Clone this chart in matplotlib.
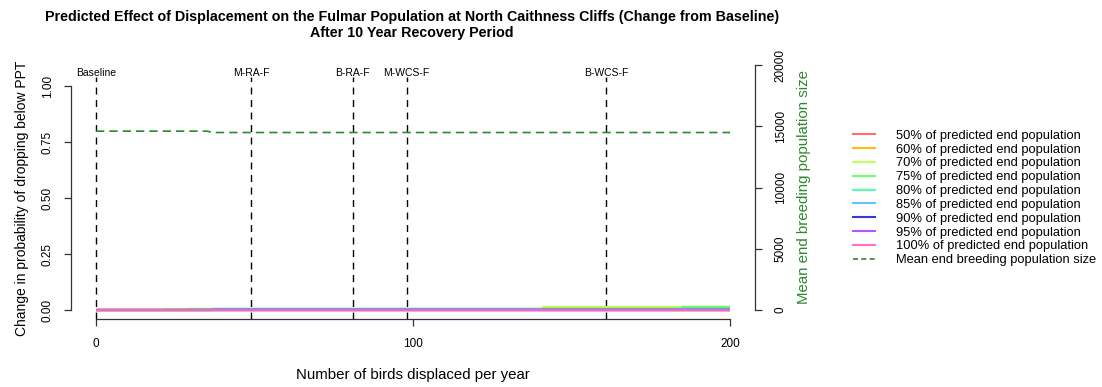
import numpy as np
import matplotlib
matplotlib.use("Agg")
import matplotlib.pyplot as plt
from matplotlib.lines import Line2D

# Data
displaced = [0, 22, 29, 37, 141, 185, 200]          # number of birds displaced per year (step points)
p50 = [0, 0, 0, 0, 0, 0, 0]
p60 = [0, 0, 0, 0, 0, 0, 0]
p70 = [0, 0.006, 0.006, 0.006, 0.012, 0.012, 0.012]
p75 = [0, 0, 0.006, 0.006, 0.006, 0.013, 0.013]
p80 = [0, 0, 0, 0.006, 0.006, 0.006, 0.006]
p85 = [0, 0, 0, 0.006, 0.006, 0.006, 0.006]
p90 = [0, 0, 0, 0, 0, 0, 0]
p95 = [0, 0, 0, 0, 0, 0, 0]
p100 = [0, 0, 0, 0, 0, 0, 0]

pop_x = [0, 35, 37, 200]
mean_pop = [14600, 14600, 14490, 14490]

scenario_x = [0, 49, 81, 98, 161]
scenario_labels = ['Baseline', 'M-RA-F', 'B-RA-F', 'M-WCS-F', 'B-WCS-F']

series = [p50, p60, p70, p75, p80, p85, p90, p95, p100]
series_labels = ['50% of predicted end population', '60% of predicted end population',
                 '70% of predicted end population', '75% of predicted end population',
                 '80% of predicted end population', '85% of predicted end population',
                 '90% of predicted end population', '95% of predicted end population',
                 '100% of predicted end population']
colors = ['#ff6060', '#ffb000', '#c0ff50', '#60ff60', '#40ffb0',
          '#50c0ff', '#2020e0', '#b040ff', '#ff60c0']

REG = ['Liberation Sans', 'DejaVu Sans']
NARROW = ['Liberation Sans Narrow', 'Liberation Sans', 'DejaVu Sans']
plt.rcParams['font.family'] = REG

W, H = 1102, 387
fig = plt.figure(figsize=(W / 100, H / 100), dpi=100)

# main plot region in pixels
left, right, top, bottom = 70.6, 755.4, 77, 319
ax = fig.add_axes([left / W, 1 - bottom / H, (right - left) / W, (bottom - top) / H])
ax.set_xlim(-8, 208)
ax.set_ylim(-0.04, 1.04)
ax.patch.set_alpha(0)

for vals, c, lab in zip(series, colors, series_labels):
    ax.plot(displaced, vals, color=c, lw=1.6, drawstyle='steps-post', solid_capstyle='butt', zorder=3)

for xv, lab in zip(scenario_x, scenario_labels):
    ax.axvline(xv, color='black', lw=1, ls=(0, (5, 4)), zorder=2)
    ax.text(xv, 1.06, lab, ha='center', va='center', fontsize=7.5, family=NARROW, clip_on=False)

for s in ['top', 'right']:
    ax.spines[s].set_visible(False)
ax.spines['bottom'].set_bounds(0, 200)
ax.spines['left'].set_bounds(0, 1)
for s in ['bottom', 'left']:
    ax.spines[s].set_color('#333333')
    ax.spines[s].set_linewidth(0.9)
ax.set_xticks([0, 100, 200])
ax.set_yticks([0, 0.25, 0.5, 0.75, 1.0])
ax.set_yticklabels(['0.00', '0.25', '0.50', '0.75', '1.00'])
ax.tick_params(axis='both', direction='out', length=5, width=0.9, color='#333333', labelsize=8.5)
ax.tick_params(axis='x', pad=9)
ax.tick_params(axis='y', pad=7)
for t in ax.get_yticklabels():
    t.set_rotation(90)
    t.set_va('center')
    t.set_ha('right')

ax.set_xlabel('Number of birds displaced per year', fontsize=10.8, labelpad=13)
ax.set_ylabel('Change in probability of dropping below PPT', fontsize=10, labelpad=9)

# secondary axis for the breeding population size
r_top = 55
ax2 = fig.add_axes([left / W, 1 - bottom / H, (right - left) / W, (bottom - r_top) / H])
ax2.patch.set_alpha(0)
ax2.set_xlim(-8, 208)
scale = (310 - 65) / 20000
ax2.set_ylim(-(bottom - 310) / scale, (310 - r_top) / scale)
ax2.plot(pop_x, mean_pop, color='#2a8a2a', lw=1.2, ls=(0, (5, 3)), zorder=3)
for s in ['top', 'left', 'bottom']:
    ax2.spines[s].set_visible(False)
ax2.spines['right'].set_bounds(0, 20000)
ax2.spines['right'].set_color('#333333')
ax2.spines['right'].set_linewidth(0.9)
ax2.set_xticks([])
ax2.yaxis.tick_right()
ax2.yaxis.set_label_position('right')
ax2.set_yticks([0, 5000, 10000, 15000, 20000])
ax2.tick_params(axis='y', direction='out', length=5, width=0.9, color='#333333', labelsize=8.5, pad=9)
for t in ax2.get_yticklabels():
    t.set_rotation(90)
    t.set_va('center')
    t.set_ha('left')
ax2.set_ylabel('Mean end breeding population size', fontsize=10.8, color='#2a8a2a', labelpad=7)

fig.suptitle('Predicted Effect of Displacement on the Fulmar Population at North Caithness Cliffs (Change from Baseline)\n'
             'After 10 Year Recovery Period', x=412 / W, y=1 - 10 / H, va='top',
             fontsize=10.3, fontweight='bold', family=NARROW, linespacing=1.15)

handles = [Line2D([], [], color=c, lw=1.5, alpha=0.9) for c in colors]
handles.append(Line2D([], [], color='#2a8a2a', lw=1.2, ls=(0, (3, 2))))
labels = series_labels + ['Mean end breeding population size']
fig.legend(handles, labels, loc='center left', bbox_to_anchor=(853 / W, 1 - 198 / H),
           frameon=False, fontsize=9.3, handlelength=1.7, handletextpad=1.6,
           labelspacing=0.14, borderpad=0, borderaxespad=0)

fig.savefig('out.png', dpi=100)
